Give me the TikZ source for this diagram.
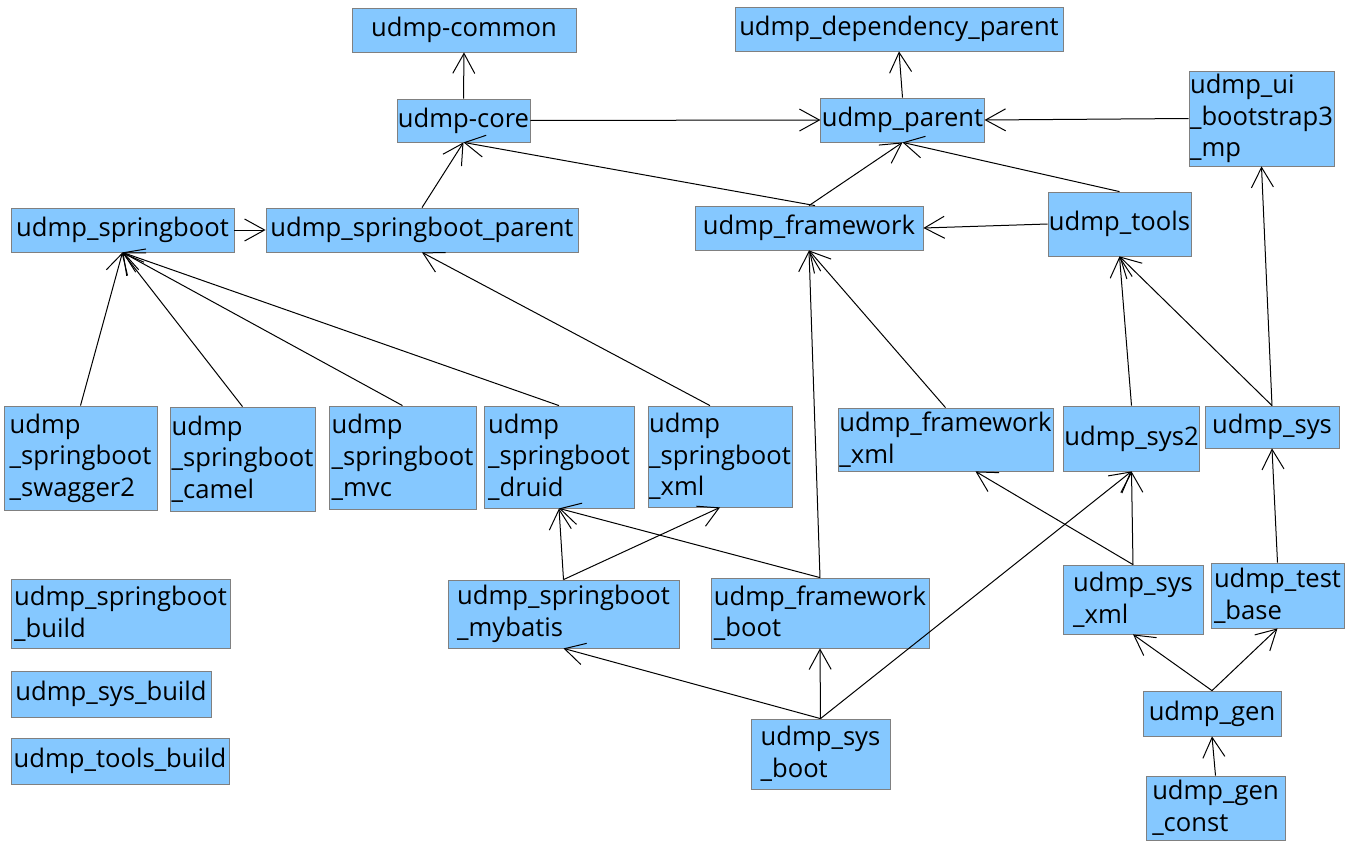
\documentclass[tikz,border=0pt]{standalone}
\usepackage{fontspec}
\setmainfont{Open Sans}
\usetikzlibrary{arrows.meta}
\definecolor{modblue}{RGB}{133,200,255}
\definecolor{modframe}{RGB}{128,128,128}

\tikzset{
  modbox/.style 2 args={draw=modframe, fill=modblue, inner sep=0.5pt, align=left,
    font=\fontsize{12.8pt}{15.8pt}\selectfont,
    minimum width=#1*0.5pt, minimum height=#2*0.5pt},
  dep/.style={draw=black, line width=0.5pt, -{Straight Barb[length=10pt,width=11pt]}}
}

\begin{document}
\begin{tikzpicture}[x=0.5pt, y=-0.5pt]
    \fill[white] (0,0) rectangle (1350,851);
    \useasboundingbox (0,0) rectangle (1350,851);

    % top row
    \node[modbox={224}{44}] (common) at (464,30) {udmp-common};
    \node[modbox={328}{44}] (depparent) at (899,29) {udmp\_dependency\_parent};
    \node[modbox={133}{43}] (core) at (463.5,120.5) {udmp-core};
    \node[modbox={163}{44}] (parent) at (902.5,120) {udmp\_parent};
    \node[modbox={145}{95}] (ui) at (1261.5,118.5) {udmp\_ui\\\_bootstrap3\\\_mp};

    % second row
    \node[modbox={223}{44}] (sboot) at (122.5,230) {udmp\_springboot};
    \node[modbox={312}{44}] (sbparent) at (422,230) {udmp\_springboot\_parent};
    \node[modbox={228}{44}] (framework) at (809,228) {udmp\_framework};
    \node[modbox={143}{64}] (tools) at (1119.5,224) {udmp\_tools};

    % springboot modules
    \node[modbox={153}{104}] (swagger) at (80.5,458) {udmp\\\_springboot\\\_swagger2};
    \node[modbox={145}{104}] (camel) at (242.5,459) {udmp\\\_springboot\\\_camel};
    \node[modbox={147}{103}] (mvc) at (402.5,457.5) {udmp\\\_springboot\\\_mvc};
    \node[modbox={150}{102}] (druid) at (559,457) {udmp\\\_springboot\\\_druid};
    \node[modbox={144}{101}] (sbxml) at (720,456.5) {udmp\\\_springboot\\\_xml};
    \node[modbox={215}{63}] (fwxml) at (945.5,439.5) {udmp\_framework\\\_xml};
    \node[modbox={135}{65}] (sys2) at (1131.5,438.5) {udmp\_sys2};
    \node[modbox={134}{42}] (sys) at (1272,427) {udmp\_sys};

    % lower rows
    \node[modbox={219}{69}] (sbbuild) at (120.5,613.5) {udmp\_springboot\\\_build};
    \node[modbox={231}{68}] (mybatis) at (563.5,614) {udmp\_springboot\\\_mybatis};
    \node[modbox={218}{70}] (fwboot) at (820,613) {udmp\_framework\\\_boot};
    \node[modbox={140}{69}] (sysxml) at (1133,599.5) {udmp\_sys\\\_xml};
    \node[modbox={133}{65}] (testbase) at (1277.5,595.5) {udmp\_test\\\_base};
    \node[modbox={200}{46}] (sysbuild) at (111,694) {udmp\_sys\_build};
    \node[modbox={218}{46}] (toolsbuild) at (120,761) {udmp\_tools\_build};
    \node[modbox={138}{45}] (gen) at (1212,713.5) {udmp\_gen};
    \node[modbox={139}{64}] (genconst) at (1215.5,808) {udmp\_gen\\\_const};
    \node[modbox={139}{70}] (sysboot) at (820.5,754) {udmp\_sys\\\_boot};

    % dependencies
    \draw[dep] (core.north) -- (common.south);
    \draw[dep] (core.east) -- (parent.west);
    \draw[dep] (parent.north) -- (depparent.south);
    \draw[dep] (ui.west) -- (parent.east);
    \draw[dep] (sbparent.north) -- (core.south);
    \draw[dep] ([xshift=3]framework.north) -- (core.south);
    \draw[dep] (framework.north) -- (parent.south);
    \draw[dep] (tools.north) -- (parent.south);
    \draw[dep] (tools.west) -- (framework.east);
    \draw[dep] (sboot.east) -- (sbparent.west);

    \foreach \m in {swagger,camel,mvc,druid}
        \draw[dep] (\m.north) -- (sboot.south);
    \draw[dep] ([xshift=-5]sbxml.north) -- (sbparent.south);
    \draw[dep] (fwxml.north) -- (framework.south);
    \draw[dep] (fwboot.north) -- (framework.south);
    \draw[dep] (sys2.north) -- (tools.south);
    \draw[dep] (sys.north) -- (tools.south);
    \draw[dep] (sys.north) -- (ui.south);

    \draw[dep] (mybatis.north) -- (druid.south);
    \draw[dep] (mybatis.north) -- (sbxml.south);
    \draw[dep] (fwboot.north) -- (druid.south);
    \draw[dep] (sysxml.north) -- (sys2.south);
    \draw[dep] (sysxml.north) -- ([xshift=15]fwxml.south);
    \draw[dep] (testbase.north) -- (sys.south);
    \draw[dep] (gen.north) -- (sysxml.south);
    \draw[dep] (gen.north) -- (testbase.south);
    \draw[dep] (genconst.north) -- (gen.south);
    \draw[dep] (sysboot.north) -- (mybatis.south);
    \draw[dep] (sysboot.north) -- (fwboot.south);
    \draw[dep] (sysboot.north) -- (sys2.south);
\end{tikzpicture}
\end{document}
